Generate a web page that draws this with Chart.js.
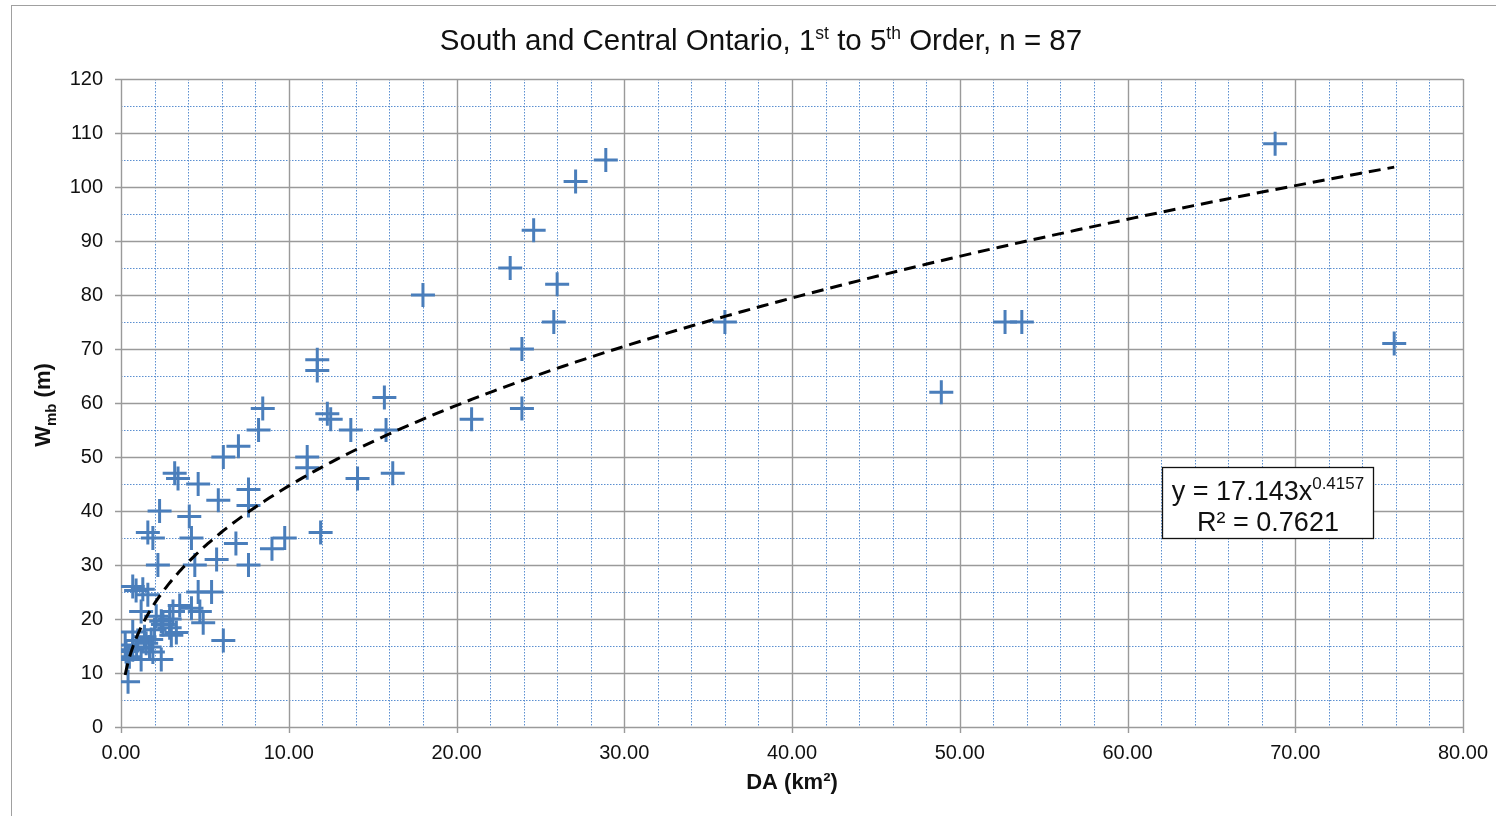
<!DOCTYPE html>
<html>
<head>
<meta charset="utf-8">
<title>South and Central Ontario, 1st to 5th Order</title>
<script src="https://cdn.jsdelivr.net/npm/chart.js@4.4.1/dist/chart.umd.min.js"></script>
<style>
  html, body { margin: 0; padding: 0; background: #fff; overflow: hidden; }
  #wrap { position: relative; width: 1496px; height: 816px; }
  #frame { position: absolute; left: 11px; top: 5px; width: 1500px; height: 830px;
           border-left: 1.5px solid #a0a0a0; border-top: 1.5px solid #a0a0a0; }
  canvas { position: absolute; left: 0; top: 0; }
</style>
</head>
<body>
<div id="wrap">
  <div id="frame"></div>
  <canvas id="chart" width="1496" height="816"></canvas>
</div>
<script>
// Drainage area (km²) and bankfull width at meander belt, Wmb (m)
const daValues = [
  28.9, 27.1, 24.6, 23.2, 26.0, 25.8, 23.9, 23.9, 20.9, 18.0,
  36.0, 68.8, 52.7, 53.7, 48.9, 75.9,
  15.7, 15.8, 16.2, 13.7, 14.1, 12.3, 12.5, 11.7, 11.7, 11.1,
  11.1, 11.9, 8.45, 8.2, 7.0, 6.1, 7.6, 7.6, 6.85, 7.6,
  9.76, 9.0,
  5.8, 4.6, 4.07, 3.2, 3.4, 2.3, 1.6, 1.9, 4.2, 2.2,
  4.4, 5.7, 6.1,
  0.7, 1.3, 1.6, 4.6, 5.4, 4.2, 4.7, 4.9, 3.1, 2.1,
  2.4, 2.5, 1.2, 0.7, 1.4, 1.8, 0.25, 0.7, 1.9, 2.4,
  1.2, 0.3, 0.93, 0.42, 2.9, 3.3,
  0.5, 1.5, 2.9, 3.5, 1.0, 2.0, 0.35, 1.7, 3.0, 0.9
];
const wmbValues = [
  105, 101, 92, 85, 82, 75, 70, 59, 57, 80,
  75, 108, 75, 75, 62, 71,
  61, 55, 47, 55, 46, 58, 57, 68, 66, 50,
  48, 36, 59, 55, 52, 50, 44, 41, 34, 30,
  35, 33,
  42, 45, 39, 47, 46, 40, 36, 35, 35, 30,
  30, 31, 16,
  26, 25.5, 24.5, 25, 25, 22, 21.4, 19.3, 21.4, 20.5,
  19.6, 19, 21.4, 17.6, 16.7, 16.2, 15.2, 14.3, 13.9, 12.5,
  12.5, 14, 14.6, 8.4, 18.4, 17.5,
  13, 15.5, 20, 22.5, 16, 18, 12.5, 14.8, 17, 25.3
];

// Power-law fit reported for the series
const fitCoef = 17.143;
const fitExp = 0.4157;
const fitR2 = 0.7621;

// Axis tick labels
const xTickLabels = ['0.00', '10.00', '20.00', '30.00', '40.00', '50.00', '60.00', '70.00', '80.00'];
const yTickLabels = ['0', '10', '20', '30', '40', '50', '60', '70', '80', '90', '100', '110', '120'];
const xMax = 80, yMax = 120;

const FONT = "'Liberation Sans', Arial, sans-serif";
const MARK_BLUE = '#4a7ebb';

const points = daValues.map((x, i) => ({ x: x, y: wmbValues[i] }));

// Curve of the fitted equation across the observed range
const xLo = Math.min(...daValues), xHi = Math.max(...daValues);
const fitCurve = [];
for (let i = 0; i <= 200; i++) {
  const x = xLo * Math.pow(xHi / xLo, i / 200);
  fitCurve.push({ x: x, y: fitCoef * Math.pow(x, fitExp) });
}

// Grid: solid grey major lines, dotted blue minor lines, outer tick marks
const gridPlugin = {
  id: 'excelGrid',
  beforeDatasetsDraw(chart) {
    const { ctx, chartArea: a, scales: { x, y } } = chart;
    ctx.save();
    ctx.lineWidth = 1;
    ctx.strokeStyle = '#5b8fd0';
    ctx.setLineDash([1.5, 1.5]);
    for (let v = 0; v <= xMax; v += 2) {
      if (v % 10 === 0) continue;
      const p = Math.round(x.getPixelForValue(v)) + 0.5;
      ctx.beginPath(); ctx.moveTo(p, a.top); ctx.lineTo(p, a.bottom); ctx.stroke();
    }
    for (let v = 5; v <= yMax; v += 10) {
      const p = Math.round(y.getPixelForValue(v)) + 0.5;
      ctx.beginPath(); ctx.moveTo(a.left, p); ctx.lineTo(a.right, p); ctx.stroke();
    }
    ctx.setLineDash([]);
    ctx.strokeStyle = '#9a9a9a';
    ctx.lineWidth = 1.4;
    for (let v = 0; v <= xMax; v += 10) {
      const p = Math.round(x.getPixelForValue(v)) + 0.5;
      ctx.beginPath(); ctx.moveTo(p, a.top); ctx.lineTo(p, a.bottom + 6); ctx.stroke();
    }
    for (let v = 0; v <= yMax; v += 10) {
      const p = Math.round(y.getPixelForValue(v)) + 0.5;
      ctx.beginPath(); ctx.moveTo(a.left - 6, p); ctx.lineTo(a.right, p); ctx.stroke();
    }
    ctx.restore();
  }
};

// Title with superscripts, axis titles and the equation box
const textPlugin = {
  id: 'chartText',
  afterDraw(chart) {
    const { ctx, chartArea: a, scales: { x, y } } = chart;
    ctx.save();
    ctx.fillStyle = '#111';
    ctx.textBaseline = 'alphabetic';

    // Title
    const big = `29.5px ${FONT}`, small = `17.5px ${FONT}`;
    const parts = [
      ['South and Central Ontario, 1', big, 0], ['st', small, -11],
      [' to 5', big, 0], ['th', small, -11],
      [' Order, n = 87', big, 0]
    ];
    let w = 0;
    parts.forEach(p => { ctx.font = p[1]; w += ctx.measureText(p[0]).width; });
    let cx = 761 - w / 2;
    parts.forEach(p => { ctx.font = p[1]; ctx.fillText(p[0], cx, 50 + p[2]); cx += ctx.measureText(p[0]).width; });

    // X axis title
    ctx.font = `bold 22px ${FONT}`;
    ctx.textAlign = 'center';
    ctx.fillText('DA (km²)', (a.left + a.right) / 2, 789);

    // Y axis title (rotated), with subscript
    ctx.save();
    ctx.translate(50, (a.top + a.bottom) / 2 + 2);
    ctx.rotate(-Math.PI / 2);
    ctx.textAlign = 'left';
    const yParts = [['W', `bold 22px ${FONT}`, 0], ['mb', `bold 15px ${FONT}`, 6], [' (m)', `bold 22px ${FONT}`, 0]];
    let yw = 0;
    yParts.forEach(p => { ctx.font = p[1]; yw += ctx.measureText(p[0]).width; });
    let yx = -yw / 2;
    yParts.forEach(p => { ctx.font = p[1]; ctx.fillText(p[0], yx, p[2]); yx += ctx.measureText(p[0]).width; });
    ctx.restore();

    // Equation box anchored in data space
    const bx = Math.round(x.getPixelForValue(62.05)) + 0.5;
    const by = Math.round(y.getPixelForValue(48.2)) + 0.5;
    const bw = 211, bh = 71;
    ctx.fillStyle = '#fff';
    ctx.fillRect(bx, by, bw, bh);
    ctx.strokeStyle = '#111';
    ctx.lineWidth = 1.3;
    ctx.strokeRect(bx, by, bw, bh);
    ctx.fillStyle = '#111';
    const eqParts = [['y = ' + fitCoef.toFixed(3) + 'x', `27px ${FONT}`, 0], [String(fitExp), `17px ${FONT}`, -11]];
    let ew = 0;
    eqParts.forEach(p => { ctx.font = p[1]; ew += ctx.measureText(p[0]).width; });
    let ex = bx + bw / 2 - ew / 2;
    ctx.textAlign = 'left';
    eqParts.forEach(p => { ctx.font = p[1]; ctx.fillText(p[0], ex, by + 32 + p[2]); ex += ctx.measureText(p[0]).width; });
    ctx.font = `27px ${FONT}`;
    ctx.textAlign = 'center';
    ctx.fillText('R² = ' + fitR2.toFixed(4), bx + bw / 2, by + 63);
    ctx.restore();
  }
};

new Chart(document.getElementById('chart'), {
  type: 'scatter',
  data: {
    datasets: [
      {
        label: 'Power fit',
        type: 'line',
        data: fitCurve,
        showLine: true,
        borderColor: '#000',
        borderWidth: 3,
        borderDash: [12, 7],
        pointRadius: 0,
        fill: false,
        tension: 0,
        order: 0
      },
      {
        label: 'Wmb',
        data: points,
        pointStyle: 'cross',
        pointRadius: 12,
        pointHoverRadius: 12,
        borderWidth: 3,
        pointBorderWidth: 3,
        borderColor: MARK_BLUE,
        backgroundColor: MARK_BLUE,
        order: 1
      }
    ]
  },
  options: {
    responsive: false,
    animation: false,
    events: [],
    layout: { padding: { left: 0, right: 33, top: 79, bottom: 0 } },
    plugins: { legend: { display: false }, tooltip: { enabled: false } },
    scales: {
      x: {
        type: 'linear',
        min: 0, max: xMax,
        grid: { display: false },
        border: { display: false },
        afterFit(s) { s.height = 89; },
        afterBuildTicks(s) { s.ticks = xTickLabels.map(t => ({ value: parseFloat(t) })); },
        ticks: {
          padding: 6,
          color: '#111',
          font: { family: FONT, size: 20 },
          maxRotation: 0,
          callback: (v) => xTickLabels.find(t => parseFloat(t) === v) || ''
        }
      },
      y: {
        type: 'linear',
        min: 0, max: yMax,
        grid: { display: false },
        border: { display: false },
        afterFit(s) { s.width = 121; },
        afterBuildTicks(s) { s.ticks = yTickLabels.map(t => ({ value: parseFloat(t) })); },
        ticks: {
          padding: 10,
          color: '#111',
          font: { family: FONT, size: 20 },
          callback: (v) => String(v)
        }
      }
    }
  },
  plugins: [gridPlugin, textPlugin]
});
</script>
</body>
</html>
